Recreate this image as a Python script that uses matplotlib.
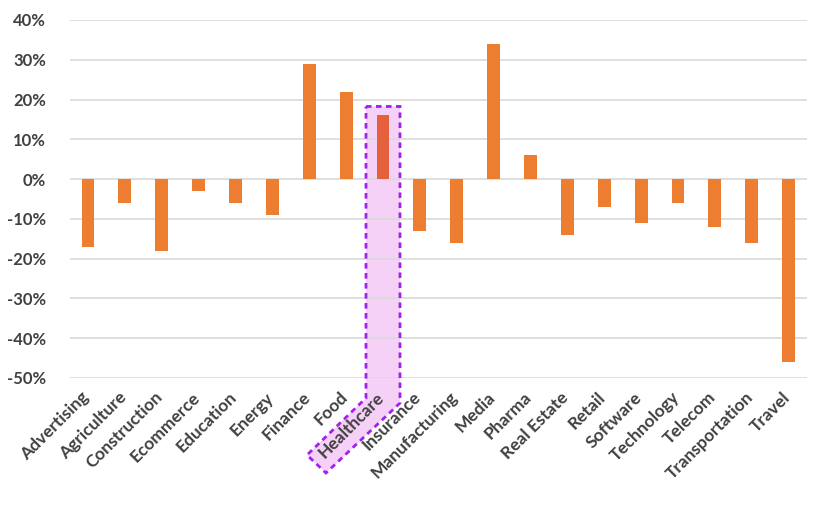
import numpy as np
import matplotlib
matplotlib.use('Agg')
import matplotlib.pyplot as plt
from matplotlib.patches import Polygon
from matplotlib.transforms import IdentityTransform, ScaledTranslation
from matplotlib.ticker import PercentFormatter

# 行业及变化率（%）
industries = ['Advertising', 'Agriculture', 'Construction', 'Ecommerce', 'Education',
              'Energy', 'Finance', 'Food', 'Healthcare', 'Insurance', 'Manufacturing',
              'Media', 'Pharma', 'Real Estate', 'Retail', 'Software', 'Technology',
              'Telecom', 'Transportation', 'Travel']
changes = [-17, -6, -18, -3, -6, -9, 29, 22, 16, -13, -16, 34, 6, -14, -7, -11, -6, -12, -16, -46]
highlight = 'Healthcare'
y_ticks = [40, 30, 20, 10, 0, -10, -20, -30, -40, -50]

plt.rcParams['font.family'] = ['Lato', 'DejaVu Sans']
plt.rcParams['axes.unicode_minus'] = False

fig = plt.figure(figsize=(8.32, 5.07), dpi=100)
ax = fig.add_axes([69.6 / 832, 1 - 378 / 507, (807 - 69.6) / 832, (378 - 20) / 507])
ax.set_axisbelow(True)

x = np.arange(len(industries))
colors = ['#E5603D' if c == highlight else '#ED7D31' for c in industries]
ax.bar(x, changes, width=0.35, color=colors, zorder=3)

ax.set_xlim(-0.5, len(industries) - 0.5)
ax.set_ylim(min(y_ticks), max(y_ticks))
ax.set_yticks(y_ticks)
ax.yaxis.set_major_formatter(PercentFormatter(decimals=0))
ax.grid(axis='y', color='#D9D9D9', linewidth=1.2)
for s in ax.spines.values():
    s.set_visible(False)
ax.tick_params(length=0)
ax.tick_params(axis='y', labelsize=12, labelcolor='#404040', pad=17)
ax.set_xticks(x)
ax.set_xticklabels(industries, rotation=45, ha='right', rotation_mode='anchor',
                   fontsize=12.5, fontweight='bold', color='#404040')
ax.tick_params(axis='x', pad=8)
for lbl in ax.get_yticklabels():
    lbl.set_fontweight('bold')
# Excel 的斜标签略微偏左
shift = ScaledTranslation(-7 / 100, 0, fig.dpi_scale_trans)
for lbl in ax.get_xticklabels():
    lbl.set_transform(lbl.get_transform() + shift)

# 高亮框：从柱顶一直延伸到斜放的标签
i = industries.index(highlight)
cx, top = ax.transData.transform((i, changes[i]))
H = 507
pts = [
    (cx - 17, top + 9),
    (cx + 17, top + 9),
    (cx + 17, H - 403),
    (cx - 57, H - 473),
    (cx - 76, H - 455),
    (cx - 17, H - 398),
]
ax.add_patch(Polygon(pts, closed=True, transform=IdentityTransform(), facecolor='#F5D0F7',
                     edgecolor='none', zorder=0.2, clip_on=False))
ax.add_patch(Polygon(pts, closed=True, transform=IdentityTransform(), facecolor='none',
                     edgecolor='#A020F0', linewidth=2, linestyle=(0, (2, 1.6)),
                     zorder=5, clip_on=False))

fig.savefig('out.png', dpi=100)
